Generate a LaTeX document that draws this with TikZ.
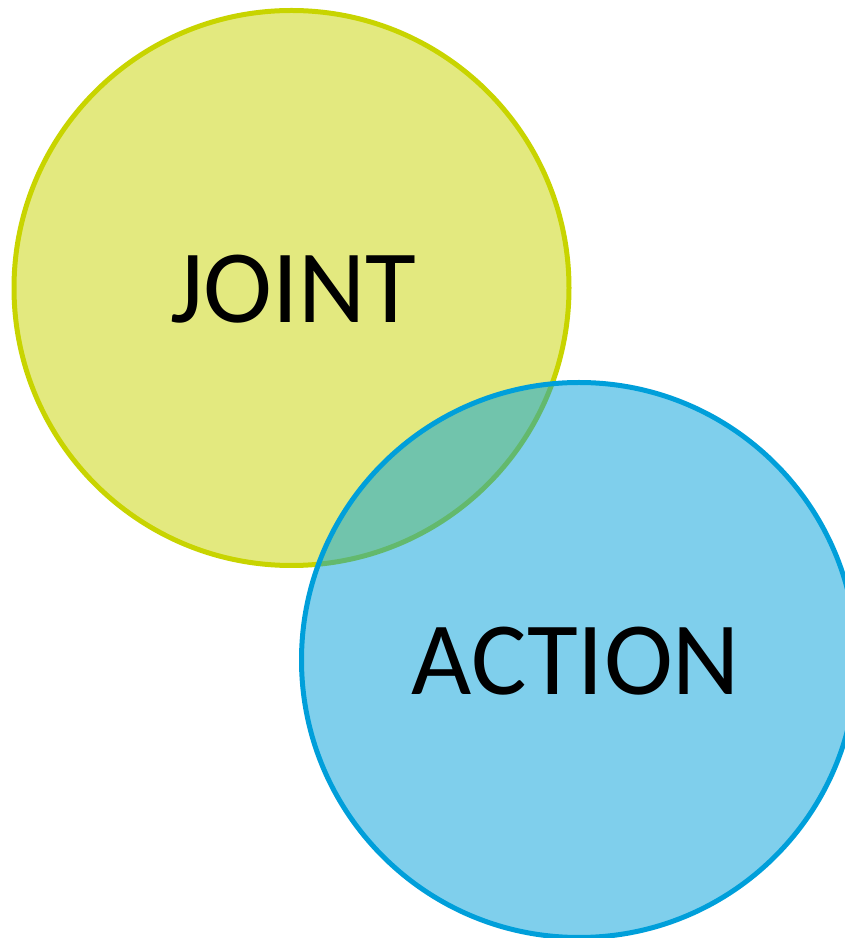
\documentclass[tikz,border=0pt]{standalone}
\usepackage{fontspec}
\setmainfont{Carlito}
\definecolor{ygreen}{HTML}{C8D400}
\definecolor{cblue}{HTML}{009FDA}
\tikzset{
  venn/.style={circle, inner sep=0pt, minimum size=555pt, line width=5pt},
  lbl/.style={inner sep=0pt, anchor=base, font=\fontsize{104}{112}\selectfont, text=black}
}
\begin{document}
\begin{tikzpicture}[x=1pt,y=1pt]
\useasboundingbox (0,0) rectangle (845,938);
\node[venn, draw=ygreen, fill=ygreen, fill opacity=0.5] (joint) at (291.5,650) {};
\node[venn, draw=cblue, fill=cblue, fill opacity=0.5] (action) at (579,278) {};
\node[lbl] (tjoint) at (293.5,615) {JOINT};
\node[lbl] (taction) at (576,243) {ACTION};
\end{tikzpicture}
\end{document}
